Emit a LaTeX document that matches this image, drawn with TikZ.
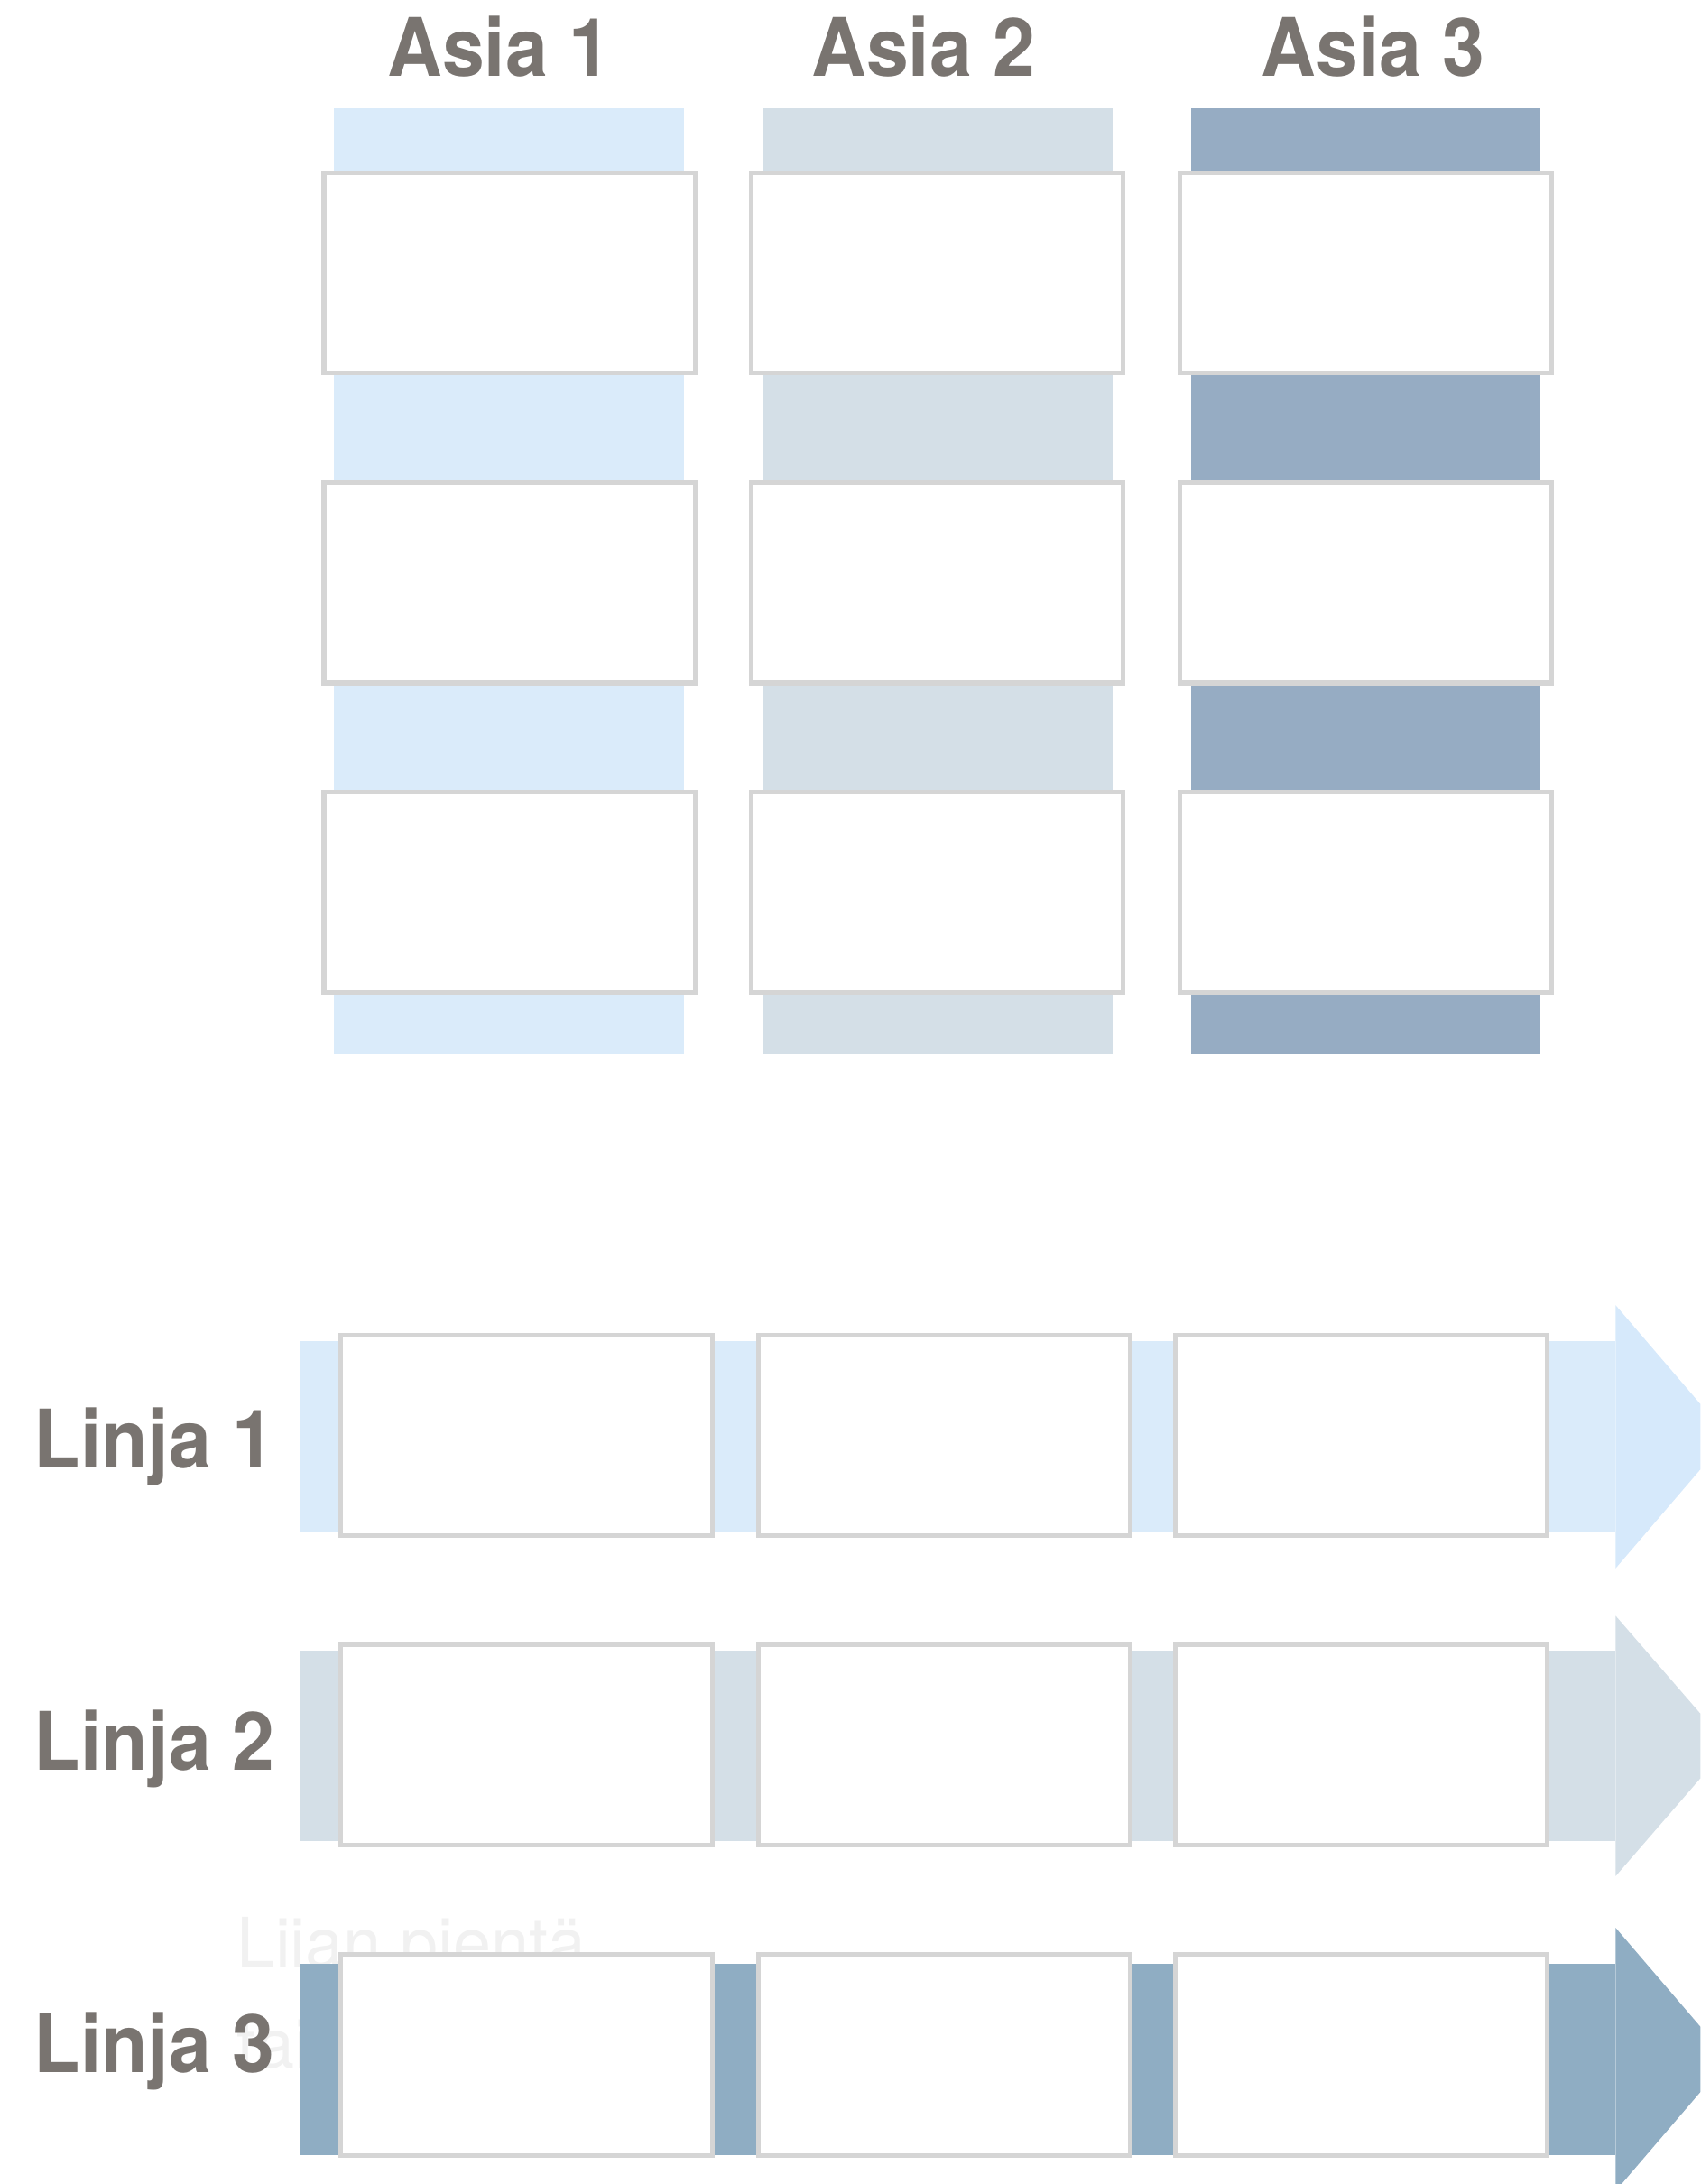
\documentclass[tikz,border=0pt]{standalone}
\usepackage{fontspec}
\setmainfont{TeX Gyre Heros}
\newfontfamily\headfont[FakeStretch=0.94]{TeX Gyre Heros}
\usepackage{xcolor}
\usetikzlibrary{calc, positioning}

\definecolor{asiaA}{HTML}{DAEBFA}
\definecolor{asiaB}{HTML}{D4DFE7}
\definecolor{asiaC}{HTML}{96ACC3}
\definecolor{headA}{HTML}{D6E9FB}
\definecolor{linjaC}{HTML}{8FADC3}
\definecolor{boxgray}{HTML}{D5D5D5}
\definecolor{labelgray}{HTML}{797470}
\definecolor{faintgray}{HTML}{F1F1F1}

\begin{document}
\begin{tikzpicture}[x=0.5pt, y=-0.5pt,
    box/.style={draw=boxgray, fill=white, line width=1.75pt, minimum width=133.5pt, minimum height=72pt, inner sep=0pt},
    bar/.style={minimum width=125.5pt, minimum height=339.5pt, inner sep=0pt},
    title/.style={anchor=base, inner sep=0pt, text=labelgray, font=\headfont\fontsize{29}{35}\selectfont\bfseries},
    linja/.style={anchor=base west, inner sep=0pt, text=labelgray, font=\headfont\fontsize{29}{35}\selectfont\bfseries},
    faint/.style={anchor=base west, inner sep=0pt, text=faintgray, font=\fontsize{24.5}{29}\selectfont}]
    \useasboundingbox (0, 0) rectangle (1221, 1568);
    \clip (0, 0) rectangle (1221, 1568);

    \node[title] (asia1) at (358.5, 55) {Asia 1};
    \node[title] (asia2) at (663, 55) {Asia 2};
    \node[title] (asia3) at (986, 55) {Asia 3};

    \node[bar, fill=asiaA] (bar1) at (365.5, 417.5) {};
    \node[bar, fill=asiaB] (bar2) at ($(bar1) + (308, 0)$) {};
    \node[bar, fill=asiaC] (bar3) at ($(bar2) + (307, 0)$) {};

    \node[box] (box11) at (366, 196) {};
    \node[box] (box12) at ($(box11) + (0, 222.5)$) {};
    \node[box] (box13) at ($(box12) + (0, 222)$) {};
    \node[box] (box21) at ($(box11) + (307, 0)$) {};
    \node[box] (box22) at ($(box21) + (0, 222.5)$) {};
    \node[box] (box23) at ($(box22) + (0, 222)$) {};
    \node[box] (box31) at ($(box21) + (307.5, 0)$) {};
    \node[box] (box32) at ($(box31) + (0, 222.5)$) {};
    \node[box] (box33) at ($(box32) + (0, 222)$) {};

    \node[faint] (note1) at (170, 1412) {Liian pientä};
    \node[faint] (note2) at (170, 1485) {tai};

    \fill[asiaA] (216, 963) rectangle (1160, 1100);
    \fill[headA] (1160, 937) -- (1241, 1031.5) -- (1160, 1126) -- cycle;
    \fill[asiaB] (216, 1185) rectangle (1160, 1322);
    \fill[asiaB] (1160, 1160) -- (1241, 1253.5) -- (1160, 1347) -- cycle;
    \fill[linjaC] (216, 1410) rectangle (1160, 1547);
    \fill[linjaC] (1160, 1384) -- (1241, 1478.5) -- (1160, 1573) -- cycle;

    \node[box] (line11) at (378, 1030.5) {};
    \node[box] (line12) at ($(line11) + (300, 0)$) {};
    \node[box] (line13) at ($(line12) + (299.5, 0)$) {};
    \node[box] (line21) at ($(line11) + (0, 222)$) {};
    \node[box] (line22) at ($(line21) + (300, 0)$) {};
    \node[box] (line23) at ($(line22) + (299.5, 0)$) {};
    \node[box] (line31) at ($(line21) + (0, 223)$) {};
    \node[box] (line32) at ($(line31) + (300, 0)$) {};
    \node[box] (line33) at ($(line32) + (299.5, 0)$) {};

    \node[linja] (linja1) at (24, 1054) {Linja 1};
    \node[linja] (linja2) at (24, 1271) {Linja 2};
    \node[linja] (linja3) at (24, 1488) {Linja 3};
\end{tikzpicture}
\end{document}
